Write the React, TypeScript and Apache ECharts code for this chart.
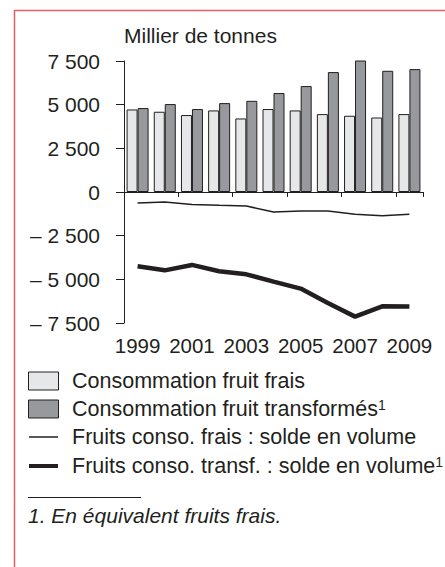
import React, { useEffect, useRef } from "react";
import * as echarts from "echarts";

const years = ["1999", "2000", "2001", "2002", "2003", "2004", "2005", "2006", "2007", "2008", "2009"];
const freshConsumption = [4725, 4595, 4405, 4670, 4210, 4750, 4670, 4460, 4365, 4265, 4460];
const processedConsumption = [4805, 5035, 4750, 5090, 5220, 5665, 6065, 6865, 7610, 6940, 7035];
const freshBalance = [-630, -570, -710, -765, -800, -1145, -1090, -1090, -1280, -1355, -1280];
const processedBalance = [-4255, -4485, -4175, -4540, -4715, -5130, -5530, -6350, -7135, -6545, -6560];
const yTicks = { min: -7500, max: 7500, interval: 2500 };

const seriesNames = [
  "Consommation fruit frais",
  "Consommation fruit transformés",
  "Fruits conso. frais : solde en volume",
  "Fruits conso. transf. : solde en volume",
];
const supFlags = [false, true, false, true];

const FONT = "Liberation Sans, Arial, sans-serif";
const TXT = "#231f20";
const LIGHT = "#e6e7e8";
const DARK = "#98999c";

function fmt(v: number): string {
  if (v === 0) return "0";
  const abs = Math.abs(v);
  const s = String(abs).replace(/\B(?=(\d{3})+(?!\d))/g, " ");
  return v < 0 ? "– " + s : s;
}

function legendGraphics() {
  const out: any[] = [];
  const ys = [381, 409, 437, 466];
  ys.forEach((cy, i) => {
    if (i === 0 || i === 1) {
      out.push({
        type: "rect",
        shape: { x: 28.5, y: cy - 9, width: 30, height: 18 },
        style: { fill: i === 0 ? LIGHT : DARK, stroke: TXT, lineWidth: 1 },
      });
    } else {
      out.push({
        type: "line",
        shape: { x1: 29, y1: cy, x2: 58, y2: cy },
        style: { stroke: TXT, lineWidth: i === 2 ? 1.5 : 4 },
      });
    }
    out.push({
      type: "text",
      x: 72,
      y: cy,
      style: {
        text: supFlags[i] ? `${seriesNames[i]}{sup|1}` : seriesNames[i],
        fontSize: 21.5,
        fill: TXT,
        fontFamily: FONT,
        verticalAlign: "middle",
        rich: {
          sup: { fontSize: 14, fill: TXT, fontFamily: FONT, verticalAlign: "top", padding: [0, 0, 8, 0] },
        },
      },
    });
  });
  return out;
}

export default function App() {
  const ref = useRef<HTMLDivElement>(null);
  useEffect(() => {
    if (!ref.current) return;
    const chart = echarts.init(ref.current, null, { renderer: "svg" });
    chart.setOption({
      animation: false,
      backgroundColor: "#ffffff",
      textStyle: { fontFamily: FONT },
      title: {
        text: "Millier de tonnes",
        left: 119,
        top: 20,
        textStyle: { fontSize: 21, fontWeight: "normal", color: TXT, fontFamily: FONT },
      },
      grid: { left: 124, right: 22, top: 61, bottom: 244 },
      xAxis: [
        {
          type: "category",
          data: years,
          boundaryGap: true,
          axisLine: { onZero: true, lineStyle: { color: TXT, width: 1 } },
          axisTick: { show: true, length: 5, inside: false, lineStyle: { color: TXT } },
          axisLabel: { show: false },
          splitLine: { show: false },
        },
        {
          type: "category",
          data: years,
          position: "bottom",
          boundaryGap: true,
          axisLine: { show: false, onZero: false },
          axisTick: { show: false },
          axisLabel: {
            show: true,
            interval: 1,
            margin: 12,
            fontSize: 20.5,
            color: TXT,
            fontFamily: FONT,
          },
          splitLine: { show: false },
        },
      ],
      yAxis: {
        type: "value",
        min: yTicks.min,
        max: yTicks.max,
        interval: yTicks.interval,
        axisLine: { show: true, lineStyle: { color: TXT, width: 1 } },
        axisTick: { show: true, length: 8, lineStyle: { color: TXT } },
        splitLine: { show: false },
        axisLabel: {
          margin: 24,
          fontSize: 21,
          color: TXT,
          fontFamily: FONT,
          formatter: (v: number) => fmt(v),
        },
      },
      graphic: [
        {
          type: "rect",
          shape: { x: 14.5, y: 10.5, width: 520, height: 600 },
          style: { fill: "none", stroke: "#e06060", lineWidth: 1.5 },
          silent: true,
        },
        ...legendGraphics(),
        {
          type: "line",
          shape: { x1: 28, y1: 497.5, x2: 141, y2: 497.5 },
          style: { stroke: TXT, lineWidth: 1 },
        },
        {
          type: "text",
          left: 28,
          top: 505,
          style: {
            text: "1. En équivalent fruits frais.",
            fontSize: 21,
            fontStyle: "italic",
            fill: TXT,
            fontFamily: FONT,
          },
        },
      ],
      series: [
        {
          name: seriesNames[0],
          type: "bar",
          data: freshConsumption,
          barWidth: 11,
          barGap: "0%",
          itemStyle: { color: LIGHT, borderColor: TXT, borderWidth: 1 },
        },
        {
          name: seriesNames[1],
          type: "bar",
          data: processedConsumption,
          barWidth: 11,
          barGap: "0%",
          itemStyle: { color: DARK, borderColor: TXT, borderWidth: 1 },
        },
        {
          name: seriesNames[2],
          type: "line",
          data: freshBalance,
          symbol: "none",
          lineStyle: { color: TXT, width: 1.5 },
          itemStyle: { color: TXT },
        },
        {
          name: seriesNames[3],
          type: "line",
          data: processedBalance,
          symbol: "none",
          lineStyle: { color: TXT, width: 4.5 },
          itemStyle: { color: TXT },
        },
      ],
    });
    return () => chart.dispose();
  }, []);
  return (
    <div
      ref={ref}
      style={{ position: "fixed", left: 0, top: 0, width: 445, height: 567, background: "#fff" }}
    />
  );
}
